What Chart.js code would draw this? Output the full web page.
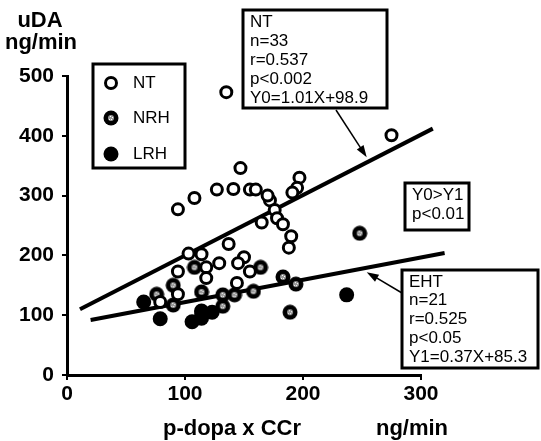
<!DOCTYPE html>
<html>
<head>
<meta charset="utf-8">
<script src="https://cdn.jsdelivr.net/npm/chart.js@4/dist/chart.umd.min.js"></script>
<style>
  html, body { margin: 0; padding: 0; background: #fff; }
  #wrap { width: 541px; height: 441px; }
</style>
</head>
<body>
<div id="wrap"><canvas id="chart" width="541" height="441"></canvas></div>
<script>
// p-dopa x CCr (ng/min) vs uDA (ng/min)
const ntX = [275, 135, 147, 127, 141, 155, 108, 94, 197, 195, 191, 103, 114, 150, 145, 129, 118, 155, 94, 118, 144, 94, 79, 137, 165, 172, 176, 178, 183, 190, 188, 160, 170];
const ntY = [401, 473, 346, 310, 311, 310, 296, 277, 330, 313, 305, 203, 202, 197, 187, 187, 180, 173, 173, 162, 154, 135, 122, 219, 255, 292, 276, 262, 252, 232, 213, 310, 300];

const nrhX = [76, 90, 90, 108, 114, 114, 132, 142, 132, 158, 164, 183, 194, 189, 248];
const nrhY = [135, 150, 117, 180, 139, 101, 134, 134, 115, 140, 180, 164, 152, 105, 237];

const lrhX = [65, 79, 106, 114, 114, 123, 237];
const lrhY = [122, 94, 89, 95, 107, 105, 134];

// regression line end points (Y0 = NT, Y1 = EHT)
const fitNTX = [11, 310];
const fitNTY = [110, 412];
const fitEHTX = [20, 320];
const fitEHTY = [92, 204];

const xTicks = [0, 100, 200, 300];
const yTicks = [0, 100, 200, 300, 400, 500];

const FONT = '"Liberation Sans", Arial, Helvetica, sans-serif';

function pairs(xs, ys) {
  return xs.map((x, i) => ({ x: x, y: ys[i] }));
}

// speckled grey marker for NRH
function makeNrhMarker() {
  const c = document.createElement("canvas");
  c.width = 16;
  c.height = 16;
  const g = c.getContext("2d");
  g.fillStyle = "#000";
  g.beginPath();
  g.arc(8, 8, 7.5, 0, Math.PI * 2);
  g.fill();
  g.fillStyle = "#999";
  g.beginPath();
  g.arc(8, 8, 3, 0, Math.PI * 2);
  g.fill();
  g.fillStyle = "#fff";
  g.fillRect(7, 6, 1, 1);
  g.fillRect(9, 7, 1, 1);
  g.fillRect(6, 9, 1, 1);
  g.fillRect(8, 9, 1, 1);
  return c;
}
const nrhMarker = makeNrhMarker();

function drawNT(ctx, x, y) {
  ctx.save();
  ctx.beginPath();
  ctx.arc(x, y, 5.5, 0, Math.PI * 2);
  ctx.fillStyle = "#fff";
  ctx.fill();
  ctx.lineWidth = 3;
  ctx.strokeStyle = "#000";
  ctx.stroke();
  ctx.restore();
}

function arrow(ctx, x1, y1, x2, y2) {
  const a = Math.atan2(y2 - y1, x2 - x1);
  ctx.save();
  ctx.strokeStyle = "#000";
  ctx.fillStyle = "#000";
  ctx.lineWidth = 1.5;
  ctx.beginPath();
  ctx.moveTo(x1, y1);
  ctx.lineTo(x2 - 8 * Math.cos(a), y2 - 8 * Math.sin(a));
  ctx.stroke();
  ctx.beginPath();
  ctx.moveTo(x2, y2);
  ctx.lineTo(x2 - 12 * Math.cos(a) + 4 * Math.sin(a), y2 - 12 * Math.sin(a) - 4 * Math.cos(a));
  ctx.lineTo(x2 - 12 * Math.cos(a) - 4 * Math.sin(a), y2 - 12 * Math.sin(a) + 4 * Math.cos(a));
  ctx.closePath();
  ctx.fill();
  ctx.restore();
}

function textBox(ctx, left, top, w, h, lines, lineH) {
  ctx.save();
  ctx.fillStyle = "#fff";
  ctx.fillRect(left, top, w, h);
  ctx.lineWidth = 3;
  ctx.strokeStyle = "#000";
  ctx.strokeRect(left, top, w, h);
  ctx.fillStyle = "#000";
  ctx.font = "17px " + FONT;
  ctx.textBaseline = "middle";
  ctx.textAlign = "left";
  lines.forEach((t, i) => {
    ctx.fillText(t, left + 7, top + 12 + i * lineH);
  });
  ctx.restore();
}

const extras = {
  id: "extras",
  afterDraw(chart) {
    const ctx = chart.ctx;
    const xs = chart.scales.x;
    const ys = chart.scales.y;

    // axis titles
    ctx.save();
    ctx.fillStyle = "#000";
    ctx.font = "bold 22px " + FONT;
    ctx.textAlign = "center";
    ctx.textBaseline = "middle";
    ctx.fillText("uDA", 40, 21);
    ctx.fillText("ng/min", 41, 43);
    ctx.fillText("p-dopa x CCr", 232, 429);
    ctx.fillText("ng/min", 412, 429);
    ctx.restore();

    // legend
    ctx.save();
    ctx.lineWidth = 3;
    ctx.strokeStyle = "#000";
    ctx.strokeRect(93, 64, 92, 104);
    ctx.font = "17px " + FONT;
    ctx.fillStyle = "#000";
    ctx.textBaseline = "middle";
    drawNT(ctx, 111, 83);
    ctx.drawImage(nrhMarker, 111 - 8, 118 - 8);
    ctx.beginPath();
    ctx.arc(111, 154, 7.5, 0, Math.PI * 2);
    ctx.fill();
    ctx.fillText("NT", 133, 83);
    ctx.fillText("NRH", 133, 118);
    ctx.fillText("LRH", 133, 154);
    ctx.restore();

    // stats boxes
    textBox(ctx, 243, 10, 144, 98, ["NT", "n=33", "r=0.537", "p<0.002", "Y0=1.01X+98.9"], 19);
    textBox(ctx, 405, 183, 64, 47, ["Y0>Y1", "p<0.01"], 19);
    textBox(ctx, 402, 270, 136, 98, ["EHT", "n=21", "r=0.525", "p<0.05", "Y1=0.37X+85.3"], 18.8);

    // arrows to the regression lines
    arrow(ctx, 336, 110, xs.getPixelForValue(254), ys.getPixelForValue(364));
    arrow(ctx, 402, 293, xs.getPixelForValue(254), ys.getPixelForValue(172));
  }
};

new Chart(document.getElementById("chart"), {
  type: "scatter",
  data: {
    datasets: [
      {
        label: "NT",
        data: pairs(ntX, ntY),
        pointRadius: 5.5,
        pointHoverRadius: 5.5,
        backgroundColor: "#fff",
        borderColor: "#000",
        borderWidth: 3,
        order: 1
      },
      {
        label: "NRH",
        data: pairs(nrhX, nrhY),
        pointStyle: nrhMarker,
        order: 2
      },
      {
        label: "LRH",
        data: pairs(lrhX, lrhY),
        pointRadius: 7.5,
        backgroundColor: "#000",
        borderColor: "#000",
        borderWidth: 0,
        order: 0
      },
      {
        type: "line",
        label: "Y0",
        data: pairs(fitNTX, fitNTY),
        borderColor: "#000",
        borderWidth: 4,
        pointRadius: 0,
        fill: false,
        clip: false,
        order: 10
      },
      {
        type: "line",
        label: "Y1",
        data: pairs(fitEHTX, fitEHTY),
        borderColor: "#000",
        borderWidth: 4,
        pointRadius: 0,
        fill: false,
        clip: false,
        order: 10
      }
    ]
  },
  options: {
    responsive: false,
    animation: false,
    layout: { padding: { top: 76, right: 120, left: 0, bottom: 0 } },
    plugins: {
      legend: { display: false },
      tooltip: { enabled: false }
    },
    scales: {
      x: {
        type: "linear",
        min: 0,
        max: 300,
        afterFit: (s) => { s.height = 66; },
        afterBuildTicks: (s) => { s.ticks = xTicks.map((v) => ({ value: v })); },
        border: { color: "#000", width: 3 },
        grid: { display: true, drawOnChartArea: false, color: "#000", lineWidth: 2, tickLength: 5 },
        ticks: {
          color: "#000",
          padding: 2,
          font: { family: FONT, size: 21, weight: "bold" }
        }
      },
      y: {
        type: "linear",
        min: 0,
        max: 500,
        afterFit: (s) => { s.width = 67; },
        afterBuildTicks: (s) => { s.ticks = yTicks.map((v) => ({ value: v })); },
        border: { color: "#000", width: 3 },
        grid: { display: true, drawOnChartArea: false, color: "#000", lineWidth: 2, tickLength: 5 },
        ticks: {
          color: "#000",
          padding: 8,
          font: { family: FONT, size: 21, weight: "bold" }
        }
      }
    }
  },
  plugins: [extras]
});
</script>
</body>
</html>
